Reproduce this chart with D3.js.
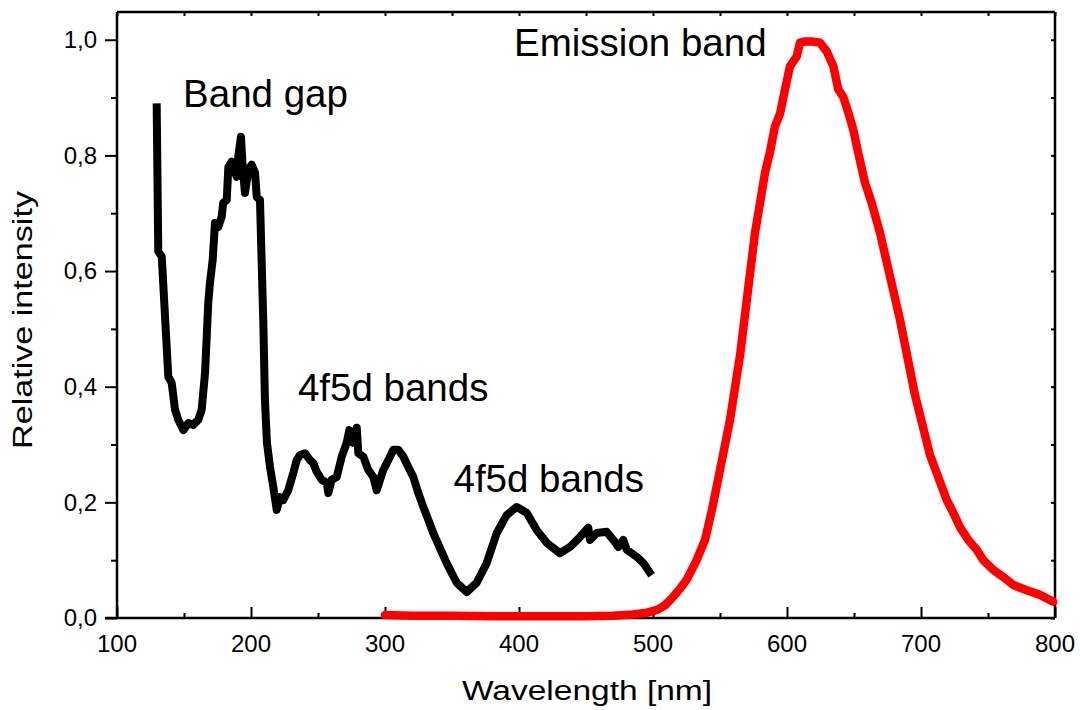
<!DOCTYPE html>
<html>
<head>
<meta charset="utf-8">
<script src="https://cdn.jsdelivr.net/npm/d3@7"></script>
<style>
  body { margin: 0; background: #fff; }
  svg { display: block; }
  text { font-family: "Liberation Sans", Arial, sans-serif; fill: #000; }
</style>
</head>
<body>
<svg id="chart" width="1080" height="710"></svg>
<script>
// excitation spectrum (black), wavelength in nm
var excX = [129.6, 130.8, 133.4, 138.3, 140.8, 143.3, 145.7, 149.5, 153.2, 156.9, 160.7, 163.2, 165.7, 168.1,
  169.4, 171.4, 173.1, 175.6, 178.1, 179.3, 181.9, 183.1, 185.6, 189.3, 190.5, 192.5, 193.8, 195.5, 198.0,
  200.5, 203.0, 204.3, 206.7, 209.2, 210.4, 211.9, 214.2, 216.6, 219.2, 221.6, 224.1, 227.8, 231.6, 234.1,
  236.6, 240.3, 244.0, 246.5, 249.0, 252.8, 256.5, 257.7, 260.2, 264.0, 267.7, 271.4, 273.4, 276.3, 278.9,
  280.1, 283.8, 287.5, 291.3, 293.8, 296.3, 298.7, 302.5, 306.2, 309.9, 313.7, 317.4, 321.1, 324.9, 328.6,
  332.3, 336.0, 346.0, 353.5, 361.0, 368.4, 375.9, 383.4, 390.8, 398.3, 405.7, 413.2, 420.7, 430.6, 438.1,
  445.5, 451.7, 453.0, 458.0, 465.4, 470.4, 474.1, 477.8, 480.4, 487.8, 492.8, 499.0];
var excY = [0.890, 0.634, 0.625, 0.417, 0.407, 0.360, 0.343, 0.325, 0.337, 0.334, 0.343, 0.360, 0.424, 0.545,
  0.580, 0.619, 0.683, 0.676, 0.694, 0.718, 0.723, 0.780, 0.789, 0.763, 0.798, 0.832, 0.780, 0.735, 0.775,
  0.784, 0.770, 0.728, 0.723, 0.510, 0.377, 0.303, 0.261, 0.227, 0.187, 0.209, 0.204, 0.221, 0.251, 0.273,
  0.282, 0.285, 0.273, 0.268, 0.253, 0.239, 0.234, 0.216, 0.239, 0.244, 0.279, 0.303, 0.325, 0.303, 0.329,
  0.285, 0.279, 0.256, 0.244, 0.221, 0.239, 0.256, 0.273, 0.291, 0.291, 0.279, 0.261, 0.244, 0.216, 0.192,
  0.170, 0.147, 0.095, 0.061, 0.045, 0.061, 0.095, 0.147, 0.178, 0.192, 0.182, 0.152, 0.130, 0.112, 0.123,
  0.140, 0.156, 0.135, 0.147, 0.149, 0.135, 0.123, 0.135, 0.118, 0.106, 0.095, 0.074];

// emission spectrum (red)
var emiX = [300, 320, 350, 380, 420, 450, 470, 485, 495, 503, 509, 515.2, 520, 525.1, 532.6, 538.8, 544.0,
  550.0, 557.5, 565.0, 570.9, 576.1, 579.9, 583.6, 587.3, 591.0, 594.8, 598.5, 602.2, 607.2, 609.7, 613.4,
  618.4, 624.6, 629.6, 634.6, 638.3, 642.0, 645.8, 649.5, 653.2, 658.2, 663.2, 669.4, 684.3, 695.5, 706.7,
  719.2, 724.1, 729.1, 735.3, 741.6, 746.5, 754.0, 761.4, 768.9, 778.9, 788.8, 798.7];
var emiY = [0.005, 0.004, 0.004, 0.003, 0.003, 0.003, 0.004, 0.006, 0.009, 0.014, 0.022, 0.037, 0.050, 0.066,
  0.100, 0.135, 0.187, 0.256, 0.343, 0.455, 0.567, 0.666, 0.718, 0.770, 0.806, 0.850, 0.872, 0.914, 0.954,
  0.971, 0.995, 0.997, 0.997, 0.995, 0.980, 0.954, 0.914, 0.901, 0.874, 0.844, 0.804, 0.753, 0.718, 0.666,
  0.516, 0.386, 0.282, 0.204, 0.182, 0.157, 0.135, 0.118, 0.100, 0.083, 0.071, 0.057, 0.048, 0.040, 0.028];

var xTicks = [100, 200, 300, 400, 500, 600, 700, 800];
var yTicks = [0, 0.2, 0.4, 0.6, 0.8, 1.0];

// annotation labels: [text, wavelength, intensity]
var labels = [
  ["Band gap", 149.3, 0.884],
  ["4f5d bands", 235, 0.375],
  ["4f5d bands", 351.1, 0.218],
  ["Emission band", 396.3, 0.972]
];

var svg = d3.select("#chart");

var x = d3.scaleLinear().domain([100, 800]).range([117, 1055]);
var y = d3.scaleLinear().domain([0, 1.048]).range([618, 12]);

var fmt = function (d) { return d3.format(".1f")(d).replace(".", ","); };

// frame: top and right with small inner ticks
var gTop = svg.append("g").attr("transform", "translate(0,12)")
  .call(d3.axisBottom(x).tickValues(d3.range(100, 801, 50)).tickSize(4).tickFormat(""));
var gRight = svg.append("g").attr("transform", "translate(1055,0)")
  .call(d3.axisLeft(y).tickValues(d3.range(0, 1.01, 0.1)).tickSize(4).tickFormat(""));

// bottom axis: major ticks inward, minor ticks inward shorter
var gBottom = svg.append("g").attr("transform", "translate(0,618)")
  .call(d3.axisTop(x).tickValues(xTicks).tickSize(11).tickFormat(""));
svg.append("g").attr("transform", "translate(0,618)")
  .call(d3.axisTop(x).tickValues(d3.range(150, 800, 100)).tickSize(5).tickFormat(""))
  .select(".domain").remove();
svg.append("g").attr("transform", "translate(0,618)")
  .selectAll("text").data(xTicks).join("text")
  .attr("x", function (d) { return x(d); })
  .attr("y", 34)
  .attr("text-anchor", "middle")
  .style("font-size", "24px")
  .text(function (d) { return d; });

// left axis: ticks outward
var gLeft = svg.append("g").attr("transform", "translate(117,0)")
  .call(d3.axisLeft(y).tickValues(yTicks).tickSize(12).tickPadding(8).tickFormat(fmt));
svg.append("g").attr("transform", "translate(117,0)")
  .call(d3.axisLeft(y).tickValues([0.1, 0.3, 0.5, 0.7, 0.9]).tickSize(6).tickFormat(""))
  .select(".domain").remove();

gTop.select(".domain").attr("d", "M117,0H1055");
gRight.select(".domain").attr("d", "M0,12V618");
gBottom.select(".domain").attr("d", "M105,0H1055");
gLeft.select(".domain").attr("d", "M0,12V618");

svg.selectAll(".domain").attr("stroke-width", 2.5);
svg.selectAll(".tick line").attr("stroke-width", 2);
gLeft.selectAll("text")
  .style("font-size", "24px")
  .style("font-family", "Liberation Sans, Arial, sans-serif")
  .attr("fill", "#000");

// curves
var line = d3.line()
  .x(function (d) { return x(d[0]); })
  .y(function (d) { return y(d[1]); });

svg.append("path")
  .datum(d3.zip(emiX, emiY))
  .attr("d", line)
  .attr("fill", "none")
  .attr("stroke", "#ff0000")
  .attr("stroke-width", 8.5)
  .attr("stroke-linejoin", "round")
  .attr("stroke-linecap", "round");

svg.append("path")
  .datum(d3.zip(excX, excY))
  .attr("d", line)
  .attr("fill", "none")
  .attr("stroke", "#000")
  .attr("stroke-width", 8)
  .attr("stroke-linejoin", "round")
  .attr("stroke-linecap", "butt");

// annotations
svg.selectAll(".lbl").data(labels).join("text")
  .attr("class", "lbl")
  .attr("x", function (d) { return x(d[1]); })
  .attr("y", function (d) { return y(d[2]); })
  .style("font-size", "38.5px")
  .text(function (d) { return d[0]; });

// axis titles
svg.append("text")
  .attr("x", 587).attr("y", 700)
  .attr("text-anchor", "middle")
  .attr("textLength", 250).attr("lengthAdjust", "spacingAndGlyphs")
  .style("font-size", "27px")
  .text("Wavelength [nm]");

svg.append("text")
  .attr("transform", "translate(32,320) rotate(-90)")
  .attr("text-anchor", "middle")
  .attr("textLength", 258).attr("lengthAdjust", "spacingAndGlyphs")
  .style("font-size", "27px")
  .text("Relative intensity");
</script>
</body>
</html>
